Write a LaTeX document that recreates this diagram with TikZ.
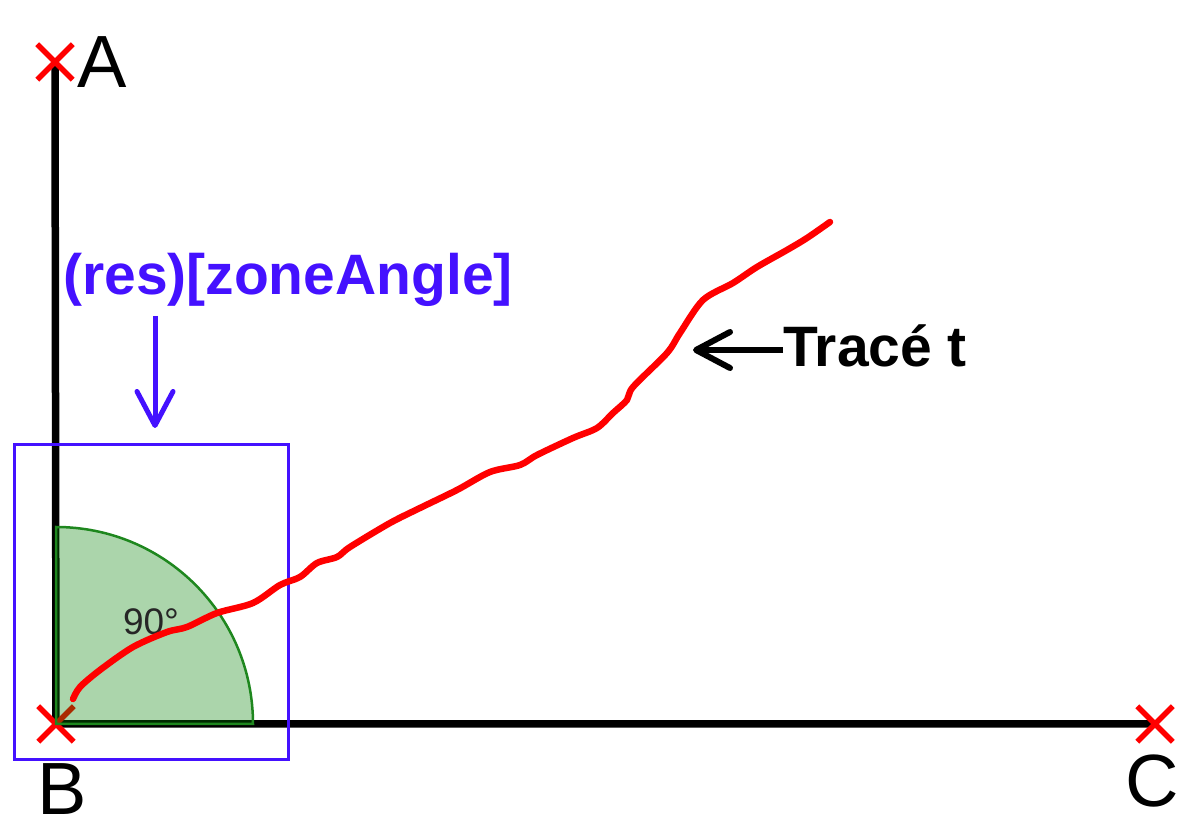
\documentclass[tikz,border=0pt]{standalone}
\usepackage{fontspec}
\setmainfont{Liberation Sans}
\usepackage{xcolor}
\usepackage{tikz}
\usetikzlibrary{arrows.meta, positioning, shapes.misc}

\definecolor{zoneblue}{RGB}{68,17,255}
\definecolor{sectorgreen}{RGB}{0,128,0}
\definecolor{sectorline}{RGB}{30,135,30}

\begin{document}
\begin{tikzpicture}[
    x=1pt, y=1pt,
    crossmark/.style={cross out, draw=red, line width=5.5pt,
                  minimum size=30pt, inner sep=0pt},
    axis/.style={line width=7.5pt, black},
    ptlbl/.style={font=\fontsize{74}{80}\selectfont, inner sep=0pt},
    sector/.style={fill=sectorgreen, fill opacity=0.33,
                  draw=sectorline, line width=2.5pt},
    zonebox/.style={draw=zoneblue, line width=3pt},
    zonelbl/.style={font=\fontsize{57}{62}\selectfont\bfseries,
                  text=zoneblue, inner sep=0pt},
    zonearr/.style={-{Straight Barb[length=34pt, width=36pt, line width=5pt, round]},
                  line width=5pt, zoneblue},
    trace/.style={red, line width=6.5pt, line cap=round, line join=round},
    tracearr/.style={-{Straight Barb[length=34pt, width=36pt, line width=6pt, round]},
                  line width=5.5pt, black},
    tracelbl/.style={font=\fontsize{57}{62}\selectfont\bfseries, inner sep=0pt},
    anglelbl/.style={font=\fontsize{37}{40}\selectfont, text=black!85,
                  inner sep=0pt},
  ]
    \useasboundingbox (0,0) rectangle (1179,828);

    % ── Points and axes ──────────────────────────
    \coordinate (A) at (55,766);
    \coordinate (B) at (56,104);
    \coordinate (C) at (1155,104);
    \draw[axis] (A) -- (B) -- (C);

    \node[crossmark] (mA) at (A) {};
    \node[crossmark] (mB) at (B) {};
    \node[crossmark] (mC) at (C) {};

    \node[ptlbl, right=22pt of A] (lA) {A};
    \node[ptlbl, below=39pt of B, xshift=6pt] (lB) {B};
    \node[ptlbl, below=31pt of C, xshift=-3pt] (lC) {C};

    % ── Angle sector ─────────────────────────────
    \filldraw[sector] (B) -- ++(197,0)
      arc[start angle=0, end angle=90, radius=197] -- cycle;
    \node[anglelbl] (ang) at (151,206) {90°};

    % ── Zone box and its label ───────────────────
    \draw[zonebox] (14,68) rectangle (288,383);
    \node[zonelbl, anchor=base] (zonename) at (288,533) {(res)[zoneAngle]};
    \coordinate (zonefrom) at (155,512);
    \coordinate (zoneto) at (155,400);
    \draw[zonearr] (zonefrom) -- (zoneto);

    % ── Trace ────────────────────────────────────
    \draw[trace] plot[smooth, tension=0.5] coordinates {
      (73,129) (80,141) (100,158) (133,181) (167,196) (187,201)
      (217,215) (253,225) (280,243) (300,251) (317,265) (337,271)
      (350,281) (390,305) (420,320) (457,338) (490,356) (520,363)
      (537,373) (573,390) (597,400) (613,415) (627,428) (633,441)
      (667,475) (680,495) (703,528) (733,545) (757,561) (787,578)
      (807,590) (830,606)};

    \node[tracelbl, anchor=base west] (tracename) at (783,461) {Tracé t};
    \coordinate (tracetip) at (693,478);
    \draw[tracearr] (tracetip -| tracename.west) -- (tracetip);
  \end{tikzpicture}
\end{document}
